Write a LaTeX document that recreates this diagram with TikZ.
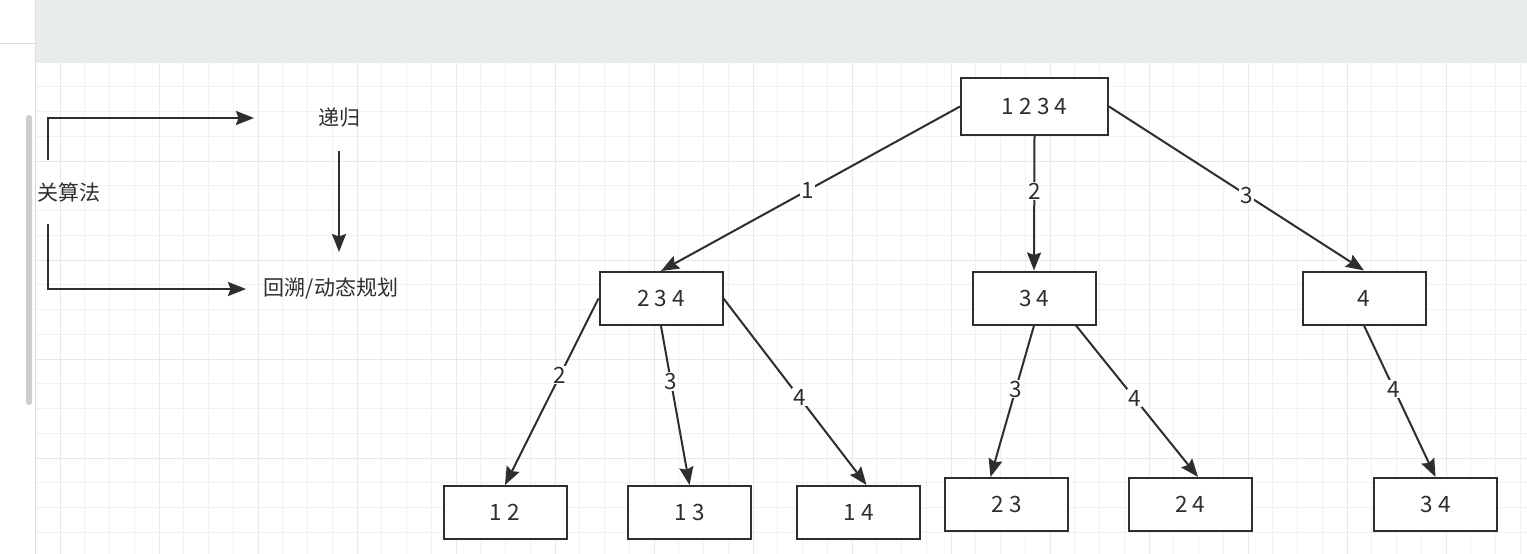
\documentclass[tikz,border=0pt]{standalone}
\usepackage{fontspec}
\setmainfont{Noto Sans CJK SC}
\usetikzlibrary{arrows.meta}
\definecolor{ink}{HTML}{2E2E2E}
\definecolor{barbg}{HTML}{E9ECED}
\definecolor{gridminor}{HTML}{F1F1F1}
\definecolor{gridmajor}{HTML}{E8E8E8}
\definecolor{panelline}{HTML}{DADCDF}
\definecolor{scrollbar}{HTML}{CDCDCD}

\begin{document}
\begin{tikzpicture}[x=1pt,y=-1pt,->,>={Stealth[length=18pt,width=14pt,inset=2.5pt]},
                    line width=2pt,color=ink,
                    font=\fontsize{21pt}{25pt}\selectfont]
  \tikzstyle{box}=[draw,fill=white,minimum width=123pt,minimum height=53pt,inner sep=0pt,
                   font=\fontsize{22.5pt}{26pt}\selectfont]
  \tikzstyle{lbl}=[fill=white,inner sep=1pt,font=\fontsize{22.5pt}{26pt}\selectfont]
  \tikzstyle{word}=[inner sep=0pt]

  % canvas
  \useasboundingbox (0,0) rectangle (1527,554);
  \begin{scope}[-]
    \fill[white] (0,0) rectangle (1527,554);
    \fill[barbg] (35,0) rectangle (1527,63);
    \begin{scope}
      \clip (35,63) rectangle (1527,554);
      \foreach \i in {-1,...,60}
        \draw[gridminor,line width=1pt] (60+\i*24.75,63) -- (60+\i*24.75,554);
      \foreach \j in {0,...,20}
        \draw[gridminor,line width=1pt] (35,62+\j*24.75) -- (1527,62+\j*24.75);
      \foreach \i in {0,...,15}
        \draw[gridmajor,line width=1pt] (60+\i*99,63) -- (60+\i*99,554);
      \foreach \j in {1,...,5}
        \draw[gridmajor,line width=1pt] (35,62+\j*99) -- (1527,62+\j*99);
    \end{scope}
    \draw[panelline,line width=1pt] (35,0) -- (35,554);
    \draw[panelline,line width=1pt] (0,43) -- (35,43);
    \fill[scrollbar,rounded corners=3pt] (26,115) rectangle (32,405);
  \end{scope}

  % left part
  \node[word,minimum height=62pt] (alg) at (69,192) {关算法};
  \node[word,minimum width=168pt,minimum height=64pt] (rec) at (339,118) {递归};
  \node[word,minimum width=168pt,minimum height=72pt] (dp) at (331,289) {回溯/动态规划};

  \draw ([xshift=-21pt]alg.north) |- (rec);
  \draw ([xshift=-21pt]alg.south) |- (dp);
  \draw (rec.south) -- (rec.south |- dp.north);

  % tree
  \node[box,minimum width=147pt,minimum height=57pt] (n1234) at (1034.5,106.5) {1 2 3 4};
  \node[box] (n234) at (661,298.5) {2 3 4};
  \node[box] (n34)  at (1034,298)  {3 4};
  \node[box] (n4)   at (1364,298)  {4};
  \node[box] (n12)  at (505,512.5) {1 2};
  \node[box] (n13)  at (689.5,512.5) {1 3};
  \node[box] (n14)  at (858.5,512.5) {1 4};
  \node[box] (n23)  at (1006.5,504.5) {2 3};
  \node[box] (n24)  at (1190,504.5) {2 4};
  \node[box] (n34b) at (1435.5,504.5) {3 4};

  \path (n1234.west)  edge node[lbl,pos=.51] {1} (n234.north)
        (n1234.south) edge node[lbl,pos=.41] {2} (n34.north)
        (n1234.east)  edge node[lbl,pos=.54] {3} (n4.north)
        (n234.west)   edge node[lbl,pos=.41] {2} (n12.north)
        (n234.south)  edge node[lbl,pos=.35] {3} (n13.north)
        (n234.east)   edge node[lbl,pos=.53] {4} ([xshift=8pt]n14.north)
        (n34.south)   edge node[lbl,pos=.42] {3} ([xshift=-16pt]n23.north)
        ([xshift=42pt]n34.south) edge node[lbl,pos=.48] {4} ([xshift=8pt]n24.north)
        (n4.south)    edge node[lbl,pos=.42] {4} (n34b.north);
\end{tikzpicture}
\end{document}
